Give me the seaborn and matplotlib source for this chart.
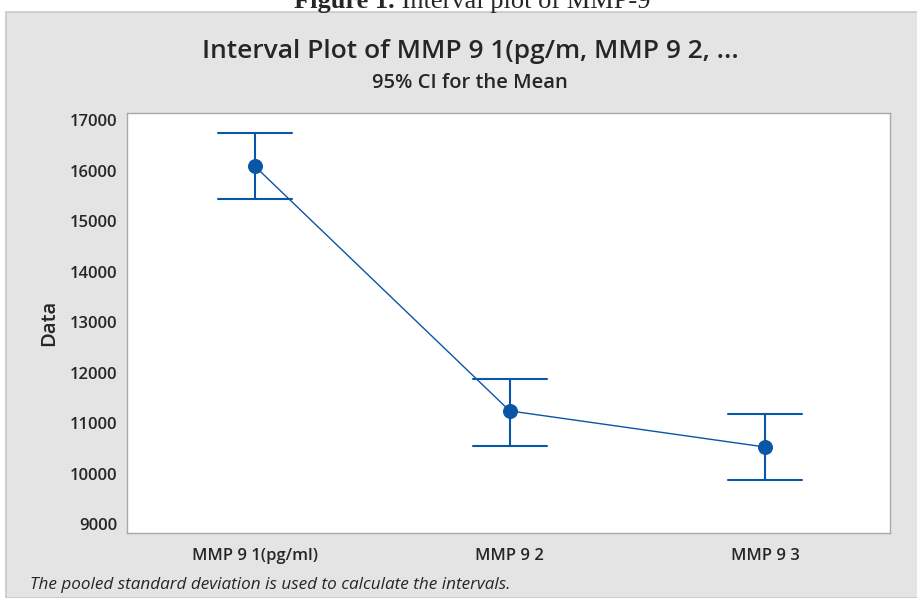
import pandas as pd
import seaborn as sns
import matplotlib.pyplot as plt
from matplotlib.patches import Rectangle

# --- Data ---
groups = ['MMP 9 1(pg/ml)', 'MMP 9 2', 'MMP 9 3']
means = [16090, 11240, 10525]
ci_low = [15440, 10550, 9870]
ci_high = [16745, 11870, 11180]
y_ticks = [9000, 10000, 11000, 12000, 13000, 14000, 15000, 16000, 17000]

BLUE = '#0a56a6'
PANEL = '#e4e4e4'

# long table: low / mean / high per group, median + full range = mean and CI
rows = []
for g, lo, m, hi in zip(groups, ci_low, means, ci_high):
    for v in (lo, m, hi):
        rows.append({'group': g, 'value': v})
df = pd.DataFrame(rows)

sns.set_style('white')
plt.rcParams['font.family'] = ['Open Sans', 'DejaVu Sans']

fig = plt.figure(figsize=(9.17, 5.98), dpi=100)
fig.patches.append(Rectangle((6 / 917, 0), 1, 1 - 12 / 598, transform=fig.transFigure,
                             facecolor=PANEL, edgecolor='#c8c8c8', linewidth=1.2, zorder=-1))

ax = fig.add_axes([127 / 917, 1 - 533 / 598, (890 - 127) / 917, (533 - 113) / 598])
sns.pointplot(data=df, x='group', y='value', estimator='median', errorbar=('pi', 100),
              color=BLUE, capsize=0.29, markersize=10, linewidth=1,
              err_kws={'linewidth': 1.5}, ax=ax)

ax.set_xlim(-0.5, 2.49)
ax.set_ylim(8822, 17139)
ax.set_yticks(y_ticks)
ax.set_yticklabels([str(t) for t in y_ticks])
ax.set_xlabel('')
ax.set_ylabel('Data', fontsize=14.5, fontweight='semibold', labelpad=8)
ax.tick_params(axis='both', length=4, width=0.8, color='#a0a0a0', labelsize=12,
               direction='out', pad=3)
for lbl in ax.get_xticklabels() + ax.get_yticklabels():
    lbl.set_fontweight('semibold')
ax.tick_params(axis='x', pad=7)
for s in ax.spines.values():
    s.set_color('#a8a8a8')
    s.set_linewidth(1)
ax.set_facecolor('white')

fig.text(0.513, 1 - 52 / 598, 'Interval Plot of MMP 9 1(pg/m, MMP 9 2, ...',
         ha='center', va='center', fontsize=19, fontweight='semibold')
fig.text(0.513, 1 - 83 / 598, '95% CI for the Mean',
         ha='center', va='center', fontsize=14.5, fontweight='semibold')
fig.text(30 / 917, 1 - 585 / 598, 'The pooled standard deviation is used to calculate the intervals.',
         ha='left', va='center', fontsize=12.3, style='italic')

# caption above the panel, cut at the top edge as in the source
cap_y = 1 - 8 / 598
fig.text(395 / 917, cap_y, 'Figure 1.', ha='right', va='baseline', fontsize=19,
         fontweight='bold', family='Liberation Serif')
fig.text(395 / 917, cap_y, ' Interval plot of MMP-9', ha='left', va='baseline', fontsize=19,
         family='Liberation Serif')

fig.savefig('out.png', dpi=100)
